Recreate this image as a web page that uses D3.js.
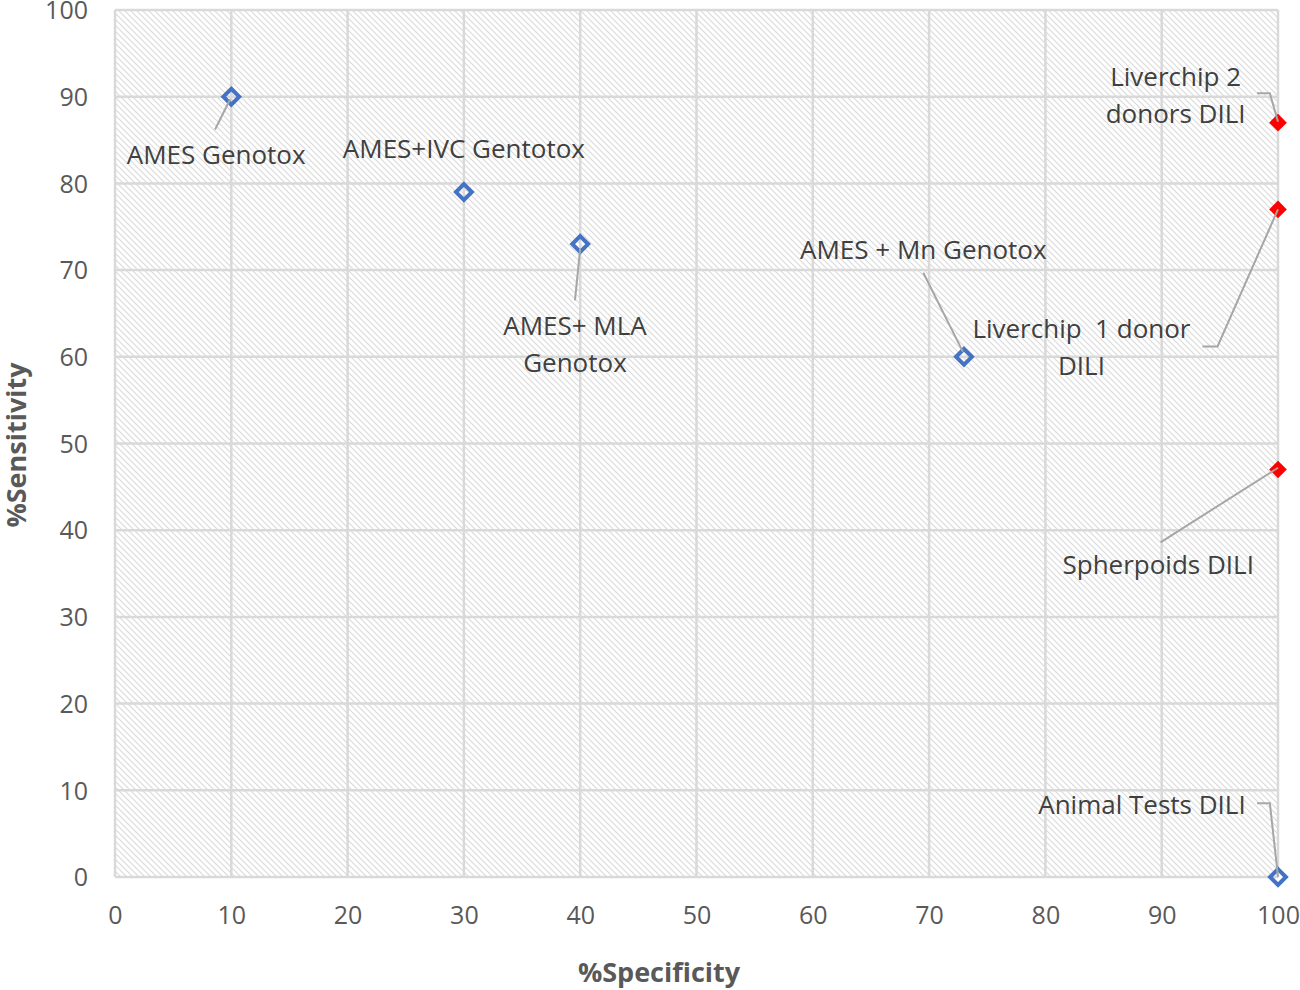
<!DOCTYPE html>
<html>
<head>
<meta charset="utf-8">
<script src="https://cdn.jsdelivr.net/npm/d3@7"></script>
<style>
  body { margin: 0; background: #fff; }
  text { font-family: "Open Sans", "Noto Sans", sans-serif; }
</style>
</head>
<body>
<div id="chart"></div>
<script>
// data
var names = ["AMES Genotox", "AMES+IVC Gentotox", "AMES+ MLA Genotox", "AMES + Mn Genotox",
             "Animal Tests DILI", "Liverchip 2 donors DILI", "Liverchip  1 donor DILI", "Spherpoids DILI"];
var specificity = [10, 30, 40, 73, 100, 100, 100, 100];
var sensitivity = [90, 79, 73, 60, 0, 87, 77, 47];
var group = ["genotox", "genotox", "genotox", "genotox", "genotox", "dili", "dili", "dili"];
var xTicks = [0, 10, 20, 30, 40, 50, 60, 70, 80, 90, 100];
var yTicks = [0, 10, 20, 30, 40, 50, 60, 70, 80, 90, 100];

// label text lines, label anchor (data units, first baseline), leader points (data units)
var labelLines = [
    ["AMES Genotox"],
    ["AMES+IVC Gentotox"],
    ["AMES+ MLA", "Genotox"],
    ["AMES + Mn Genotox"],
    ["Animal Tests DILI"],
    ["Liverchip 2", "donors DILI"],
    ["Liverchip  1 donor", "DILI"],
    ["Spherpoids DILI"]
];
var labelAt = [[8.7, 82.2], [30, 82.9], [39.55, 62.5], [69.5, 71.3], [88.3, 7.3], [91.2, 91.2], [83.1, 62.2], [89.7, 34.9]];
var leaders = [
    [[8.6, 86.2], [9.9, 89.7]],
    [],
    [[39.55, 66.5], [40, 72.5]],
    [[69.5, 69.7], [72.9, 60.6]],
    [[98.2, 8.5], [99.3, 8.5], [100, 0]],
    [[98.2, 90.4], [99.3, 90.4], [100, 87.1]],
    [[93.5, 61.2], [94.8, 61.2], [100, 77]],
    [[89.9, 38.6], [100, 47.2]]
];

var width = 1300, height = 990;
var margin = {left: 115, top: 10, right: 22, bottom: 113};

var svg = d3.select("#chart").append("svg")
    .attr("width", width)
    .attr("height", height);

var x = d3.scaleLinear().domain([0, 100]).range([margin.left, width - margin.right]);
var y = d3.scaleLinear().domain([0, 100]).range([height - margin.bottom, margin.top]);

// hatched plot background
var defs = svg.append("defs");
var pat = defs.append("pattern")
    .attr("id", "hatch")
    .attr("patternUnits", "userSpaceOnUse")
    .attr("width", 6)
    .attr("height", 6);
pat.append("rect").attr("width", 6).attr("height", 6).attr("fill", "#fff");
pat.append("path")
    .attr("d", "M-1,-1 L7,7 M-4,2 L4,10 M2,-4 L10,4")
    .attr("stroke", "#dadada")
    .attr("stroke-width", 1.1);

svg.append("rect")
    .attr("x", x(0))
    .attr("y", y(100))
    .attr("width", x(100) - x(0))
    .attr("height", y(0) - y(100))
    .attr("fill", "url(#hatch)");

// gridlines
svg.append("g").selectAll("line.vgrid")
    .data(xTicks)
    .enter().append("line")
    .attr("x1", d => x(d)).attr("x2", d => x(d))
    .attr("y1", y(0)).attr("y2", y(100))
    .attr("stroke", "#d9d9d9")
    .attr("stroke-width", 2.5);

svg.append("g").selectAll("line.hgrid")
    .data(yTicks)
    .enter().append("line")
    .attr("x1", x(0)).attr("x2", x(100))
    .attr("y1", d => y(d)).attr("y2", d => y(d))
    .attr("stroke", "#d9d9d9")
    .attr("stroke-width", 2.5);

// axes
var xAxis = svg.append("g")
    .attr("transform", "translate(0," + y(0) + ")")
    .call(d3.axisBottom(x).tickValues(xTicks).tickSize(0).tickPadding(29));
xAxis.select(".domain").remove();
xAxis.selectAll("text")
    .style("font-family", "'Open Sans', sans-serif")
    .style("font-size", "25px")
    .attr("fill", "#595959");

var yAxis = svg.append("g")
    .attr("transform", "translate(" + x(0) + ",0)")
    .call(d3.axisLeft(y).tickValues(yTicks).tickSize(0).tickPadding(27));
yAxis.select(".domain").remove();
yAxis.selectAll("text")
    .style("font-family", "'Open Sans', sans-serif")
    .style("font-size", "25px")
    .attr("dy", "0.35em")
    .attr("fill", "#595959");

// axis titles
svg.append("text")
    .attr("x", 659)
    .attr("y", 982)
    .attr("text-anchor", "middle")
    .style("font-size", "27px")
    .style("font-weight", "bold")
    .attr("fill", "#595959")
    .text("%Specificity");

svg.append("text")
    .attr("transform", "translate(26,445) rotate(-90)")
    .attr("text-anchor", "middle")
    .style("font-size", "27px")
    .style("font-weight", "bold")
    .attr("fill", "#595959")
    .text("%Sensitivity");

// points
var idx = d3.range(names.length);
var diamond = d3.symbol().type(d3.symbolDiamond2);

svg.append("g").selectAll("path.pt")
    .data(idx)
    .enter().append("path")
    .attr("transform", i => "translate(" + x(specificity[i]) + "," + y(sensitivity[i]) + ")")
    .attr("d", i => group[i] === "dili" ? diamond.size(200)() : diamond.size(160)())
    .attr("fill", i => group[i] === "dili" ? "#ff0000" : "none")
    .attr("stroke", i => group[i] === "dili" ? "none" : "#4472c4")
    .attr("stroke-width", 4);

// leader lines (drawn over the markers, as in the original)
var line = d3.line().x(d => x(d[0])).y(d => y(d[1]));
svg.append("g").selectAll("path.leader")
    .data(leaders.filter(l => l.length))
    .enter().append("path")
    .attr("d", line)
    .attr("fill", "none")
    .attr("stroke", "#a6a6a6")
    .attr("stroke-width", 2);

// data labels
var labels = svg.append("g").selectAll("text.lbl")
    .data(idx)
    .enter().append("text")
    .attr("text-anchor", "middle")
    .attr("x", i => x(labelAt[i][0]))
    .attr("y", i => y(labelAt[i][1]))
    .style("font-size", "26px")
    .style("white-space", "pre")
    .attr("fill", "#404040");

labels.selectAll("tspan")
    .data(i => labelLines[i].map((t, k) => ({t: t, k: k, i: i})))
    .enter().append("tspan")
    .attr("x", d => x(labelAt[d.i][0]))
    .attr("dy", d => d.k === 0 ? 0 : 37)
    .text(d => d.t);
</script>
</body>
</html>
